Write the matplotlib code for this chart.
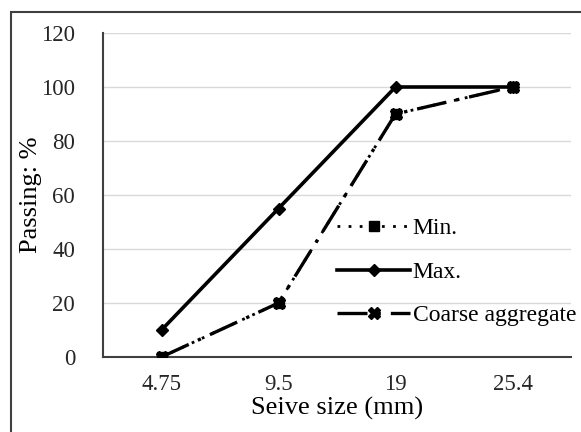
import matplotlib
matplotlib.use("Agg")
import matplotlib.pyplot as plt
from matplotlib.patches import Rectangle

sizes = ["4.75", "9.5", "19", "25.4"]
min_pass = [0, 20, 90, 100]
max_pass = [10, 55, 100, 100]
coarse_pass = [0, 20, 90, 100]

plt.rcParams["font.family"] = ["Liberation Serif", "DejaVu Serif"]
plt.rcParams["font.size"] = 16.5

fig = plt.figure(figsize=(5.81, 4.32), dpi=100)
ax = fig.add_axes([103 / 581, 75 / 432, 468 / 581, 324 / 432])

x = range(len(sizes))
ax.plot(x, min_pass, color="black", lw=2.0, linestyle=(0, (1, 3)),
        marker="s", markersize=7, label="Min.", zorder=3)
ax.plot(x, max_pass, color="black", lw=2.6, linestyle="-",
        marker="D", markersize=6, label="Max.", zorder=4)
ax.plot(x, coarse_pass, color="black", lw=2.4, linestyle=(0, (9, 3, 1, 3)),
        marker="X", markersize=8, label="Coarse aggregate", zorder=5)

ax.set_xlim(-0.5, len(sizes) - 0.5)
ax.set_ylim(0, 120)
ax.set_yticks(range(0, 121, 20))
ax.set_xticks(list(x))
ax.set_xticklabels(sizes)
ax.tick_params(axis="both", length=0, colors="#262626")
ax.tick_params(axis="y", pad=20)
ax.tick_params(axis="x", pad=12)

ax.grid(axis="y", color="#d9d9d9", lw=1)
ax.set_axisbelow(True)
for side in ["top", "right"]:
    ax.spines[side].set_visible(False)
for side in ["left", "bottom"]:
    ax.spines[side].set_color("#404040")
    ax.spines[side].set_linewidth(1.5)

ax.set_xlabel("Seive size (mm)", fontsize=19)
ax.set_ylabel("Passing: %", fontsize=19)
ax.xaxis.set_label_coords(0.5, -0.122)
ax.yaxis.set_label_coords(-0.13, 0.5)

ax.legend(loc="center left", bbox_to_anchor=(0.5, 0.262), frameon=False,
          fontsize=17, handlelength=3.1, handletextpad=0.1, labelspacing=0.93,
          borderpad=0, borderaxespad=0)

fig.add_artist(Rectangle((11 / 581, -0.5), 2, 0.5 + 1 - 12 / 432, fill=False,
                         edgecolor="#404040", lw=1.5, transform=fig.transFigure))

fig.savefig("out.png", dpi=100)
